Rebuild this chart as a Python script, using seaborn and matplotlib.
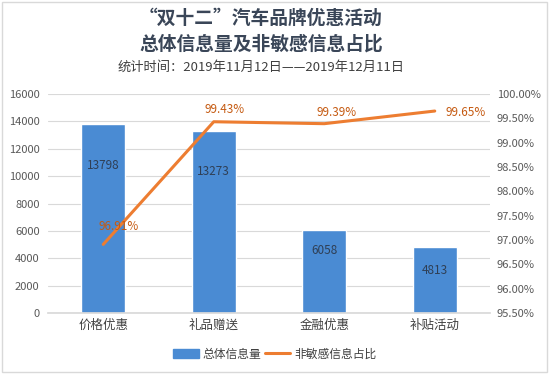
import matplotlib
matplotlib.use("Agg")
import matplotlib.pyplot as plt
import seaborn as sns
import pandas as pd
from matplotlib.patches import Rectangle
from matplotlib.lines import Line2D
from matplotlib.ticker import FuncFormatter, MultipleLocator

categories = ["价格优惠", "礼品赠送", "金融优惠", "补贴活动"]
total_volume = [13798, 13273, 6058, 4813]
non_sensitive_pct = [96.91, 99.43, 99.39, 99.65]

sns.set_theme(style="white")
plt.rcParams['font.family'] = ['Noto Sans CJK SC', 'DejaVu Sans']

fig = plt.figure(figsize=(5.49, 3.74), dpi=100)
ax = fig.add_axes([48/549, 1-313/374, (490-48)/549, (313-94)/374])

df = pd.DataFrame({"cat": categories, "val": total_volume})
sns.barplot(data=df, x="cat", y="val", ax=ax, color="#4a8bd3", width=0.4, saturation=1)

ax.set_ylim(0, 16000)
ax.yaxis.set_major_locator(MultipleLocator(2000))
ax.grid(axis="y", color="#d9d9d9", linewidth=0.8)
ax.set_axisbelow(True)
for s in ["top", "right", "left"]:
    ax.spines[s].set_visible(False)
ax.spines["bottom"].set_color("#d9d9d9")
ax.set_xlabel("")
ax.set_ylabel("")
ax.tick_params(axis="y", labelsize=8, colors="#595959", length=0, pad=6)
ax.tick_params(axis="x", labelsize=9, colors="#404040", length=0, pad=4)

# bar value labels (positioned inside bars)
label_frac = [0.78, 0.78, 0.75, 0.65]
for i, (v, f) in enumerate(zip(total_volume, label_frac)):
    ax.text(i, v * f, str(v), ha="center", va="center", fontsize=8.5, color="#2f3f55")

ax2 = ax.twinx()
sns.lineplot(x=list(range(len(categories))), y=non_sensitive_pct, ax=ax2,
             color="#ed7d31", linewidth=2.2)
ax2.set_ylim(95.5, 100.0)
ax2.yaxis.set_major_locator(MultipleLocator(0.5))
ax2.yaxis.set_major_formatter(FuncFormatter(lambda v, p: f"{v:.2f}%"))
ax2.tick_params(axis="y", labelsize=8, colors="#595959", length=0, pad=5)
for s in ["top", "right", "left", "bottom"]:
    ax2.spines[s].set_visible(False)
ax2.set_ylabel("")
ax2.grid(False)

offsets = [(11, 13), (8, 9), (9, 8), (22, -1)]
for i, (p, off) in enumerate(zip(non_sensitive_pct, offsets)):
    ax2.annotate(f"{p:.2f}%", (i, p), xytext=off, textcoords="offset points",
                 ha="center", va="center", fontsize=8.5, color="#c55a11")

ax.set_xlim(-0.5, 3.5)

# titles
tx = 261 / 549
fig.text(tx, 1-18/374, "“双十二”汽车品牌优惠活动", ha="center", va="center",
         fontsize=13.5, fontweight="bold", color="#3a4658")
fig.text(tx, 1-44/374, "总体信息量及非敏感信息占比", ha="center", va="center",
         fontsize=13.5, fontweight="bold", color="#3a4658")
fig.text(tx, 1-67/374, "统计时间：2019年11月12日——2019年12月11日", ha="center", va="center",
         fontsize=9.5, color="#404040")

# legend
handles = [Rectangle((0, 0), 1, 1, color="#4a8bd3"),
           Line2D([0], [0], color="#ed7d31", linewidth=2.2)]
fig.legend(handles, ["总体信息量", "非敏感信息占比"], loc="center",
           bbox_to_anchor=(0.5, 1-354/374), ncol=2, frameon=False, fontsize=8.5,
           handlelength=2.2, handletextpad=0.3, columnspacing=0.3,
           labelcolor="#404040")

fig.patches.append(Rectangle((0.003, 0.005), 0.994, 0.99, transform=fig.transFigure,
                             fill=False, edgecolor="#d9d9d9", linewidth=1))

fig.savefig("out.png", dpi=100)
